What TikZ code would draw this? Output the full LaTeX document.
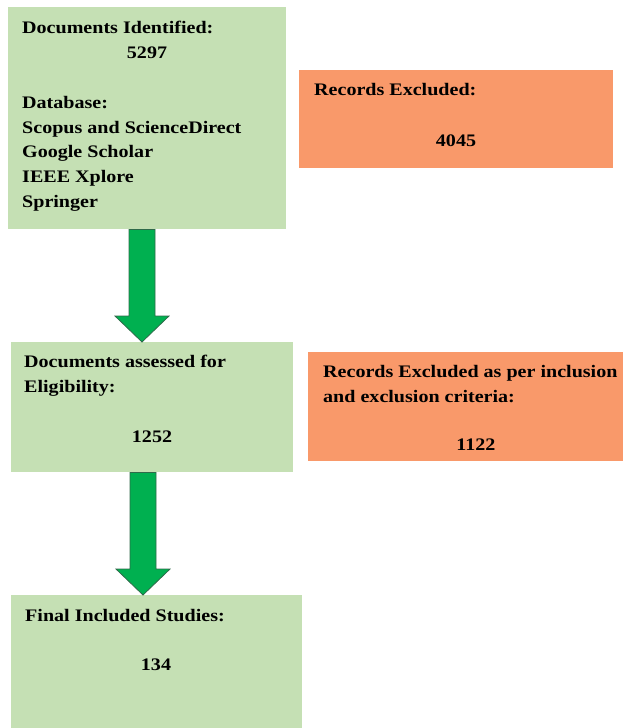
\documentclass[tikz,border=0pt]{standalone}
\usepackage{graphicx}
\usepackage{fontspec}
\setmainfont{Liberation Serif}
\usetikzlibrary{calc}
\definecolor{boxgreen}{HTML}{C5E0B4}
\definecolor{boxorange}{HTML}{F9996A}
\definecolor{arrowgreen}{HTML}{00B050}
\definecolor{arrowedge}{HTML}{2F6A4A}
\newcommand{\sx}[1]{\scalebox{1.14}[1]{#1}}
\begin{document}
\begin{tikzpicture}[x=1pt,y=-1pt,
  gbox/.style={fill=boxgreen, draw=none, anchor=north west, inner sep=0pt},
  obox/.style={fill=boxorange, draw=none, anchor=north west, inner sep=0pt},
  txt/.style={font=\fontsize{17.6}{24.8}\selectfont\bfseries, inner sep=0pt, anchor=base west},
  ctxt/.style={txt, anchor=base},
  blockarrow/.style={fill=arrowgreen, draw=arrowedge, line width=0.8pt, line join=miter,
    to path={let \p1=(\tikztostart), \p2=(\tikztotarget) in
      (\x1-13pt,\y1) -- (\x1+13pt,\y1) -- (\x1+13pt,\y2+26pt) -- (\x1+27pt,\y2+26pt)
      -- (\x2,\y2) -- (\x1-27pt,\y2+26pt) -- (\x1-13pt,\y2+26pt) -- cycle}}
]
\useasboundingbox (0,0) rectangle (623,728);

% boxes
\node[gbox, minimum width=278pt, minimum height=222pt] (b1) at (8,7) {};
\node[obox, minimum width=314pt, minimum height=98pt] (o1) at (299,70) {};
\node[gbox, minimum width=282pt, minimum height=130pt] (b2) at (11,342) {};
\node[obox, minimum width=315pt, minimum height=109pt] (o2) at (308,352) {};
\node[gbox, minimum width=291pt, minimum height=133pt] (b3) at (11,595) {};

% box 1 text
\node[txt] (t1a) at (22,33) {\sx{Documents Identified:}};
\node[ctxt] (t1b) at (147,58) {\sx{5297}};
\node[txt] (t1c) at (22,108) {\sx{Database:}};
\node[txt] (t1d) at (22,133) {\sx{Scopus and ScienceDirect}};
\node[txt] (t1e) at (22,157.5) {\sx{Google Scholar}};
\node[txt] (t1f) at (22,182) {\sx{IEEE Xplore}};
\node[txt] (t1g) at (22,207) {\sx{Springer}};

% orange 1 text
\node[txt] (to1a) at (314,95) {\sx{Records Excluded:}};
\node[ctxt] (to1b) at (456,146) {\sx{4045}};

% box 2 text
\node[txt] (t2a) at (24,367) {\sx{Documents assessed for}};
\node[txt] (t2b) at (24,392) {\sx{Eligibility:}};
\node[ctxt] (t2c) at (152,442) {\sx{1252}};

% orange 2 text
\node[txt] (to2a) at (323,377) {\sx{Records Excluded as per inclusion}};
\node[txt] (to2b) at (323,402) {\sx{and exclusion criteria:}};
\node[ctxt] (to2c) at (476,450) {\sx{1122}};

% box 3 text
\node[txt] (t3a) at (25,621) {\sx{Final Included Studies:}};
\node[ctxt] (t3b) at (156,670) {\sx{134}};

% arrows
\coordinate (a1s) at ($(b1.south west)+(134,0)$);
\coordinate (a1e) at (a1s |- b2.north);
\coordinate (a2s) at ($(b2.south west)+(132,0)$);
\coordinate (a2e) at (a2s |- b3.north);
\path[blockarrow] (a1s) to (a1e);
\path[blockarrow] (a2s) to (a2e);
\end{tikzpicture}
\end{document}
